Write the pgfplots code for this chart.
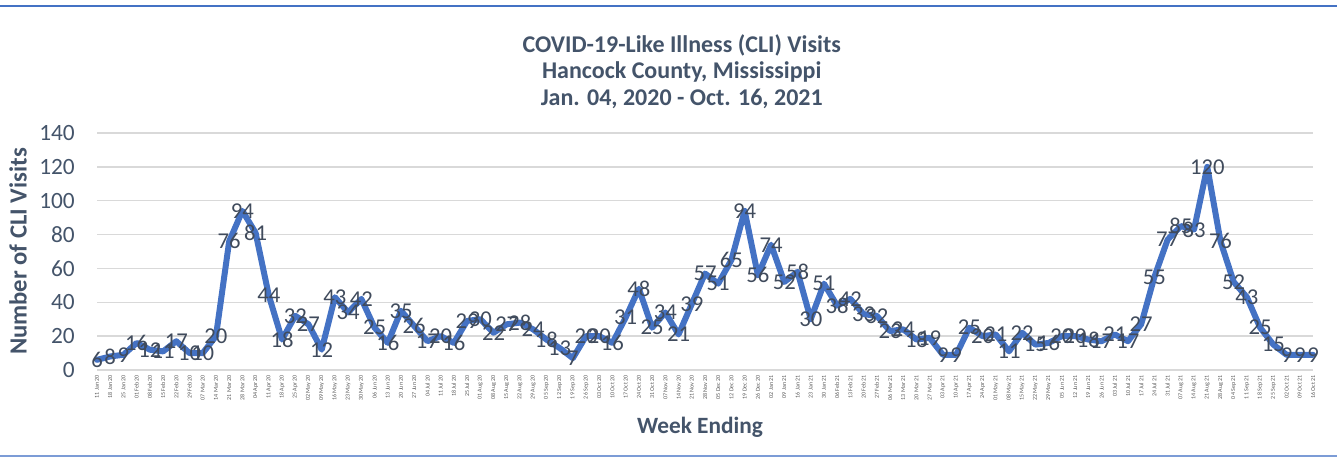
\documentclass[border=0pt]{standalone}
\usepackage{pgfplots}
\usepackage{pgfplotstable}
\pgfplotsset{compat=1.18}
\usepackage{fontspec}
\setmainfont{Carlito}
\definecolor{linec}{HTML}{4472C4}
\definecolor{txt}{HTML}{44546A}
\definecolor{lbl}{HTML}{404B5C}
\definecolor{gridc}{HTML}{D9D9D9}
\definecolor{tickc}{HTML}{595959}
\pgfplotstableread{
idx val
0 6
1 8
2 9
3 16
4 12
5 11
6 17
7 10
8 10
9 20
10 76
11 94
12 81
13 44
14 18
15 32
16 27
17 12
18 43
19 34
20 42
21 25
22 16
23 35
24 26
25 17
26 20
27 16
28 29
29 30
30 22
31 27
32 28
33 24
34 18
35 13
36 7
37 20
38 20
39 16
40 31
41 48
42 25
43 34
44 21
45 39
46 57
47 51
48 65
49 94
50 56
51 74
52 52
53 58
54 30
55 51
56 38
57 42
58 33
59 32
60 23
61 24
62 18
63 19
64 9
65 9
66 25
67 20
68 21
69 11
70 22
71 15
72 16
73 20
74 20
75 18
76 17
77 21
78 17
79 27
80 55
81 77
82 85
83 83
84 120
85 76
86 52
87 43
88 25
89 15
90 9
91 9
92 9
}\cliData
\begin{document}
\begin{tikzpicture}[x=1pt,y=1pt]
\path[use as bounding box] (0,0) rectangle (1002.75,342.75);
\draw[linec, line width=1.5pt] (0,338.25) -- (1002.75,338.25);
\draw[linec!70, line width=1pt] (0,0.75) -- (1002.75,0.75);
\node[align=center, text=txt, font=\bfseries\fontsize{18}{19.9}\selectfont] at (511.3,289) {COVID-19-Like Illness (CLI) Visits\\Hancock County, Mississippi\\Jan. 04, 2020 - Oct. 16, 2021};
\node[rotate=90, text=txt, font=\bfseries\fontsize{18.5}{20}\selectfont] at (13.5,154.1) {Number of CLI Visits};
\node[text=txt, font=\bfseries\fontsize{17.5}{20}\selectfont] at (525,22.5) {Week Ending};
\begin{axis}[
  at={(72.75pt,65.25pt)}, anchor=south west,
  scale only axis, width=912pt, height=177.75pt,
  xmin=0, xmax=92, ymin=0, ymax=140,
  ytick={0,20,...,140},
  xtick={0,...,92},
  xticklabels={11 Jan 20,18 Jan 20,25 Jan 20,01 Feb 20,08 Feb 20,15 Feb 20,22 Feb 20,29 Feb 20,07 Mar 20,14 Mar 20,21 Mar 20,28 Mar 20,04 Apr 20,11 Apr 20,18 Apr 20,25 Apr 20,02 May 20,09 May 20,16 May 20,23 May 20,30 May 20,06 Jun 20,13 Jun 20,20 Jun 20,27 Jun 20,04 Jul 20,11 Jul 20,18 Jul 20,25 Jul 20,01 Aug 20,08 Aug 20,15 Aug 20,22 Aug 20,29 Aug 20,05 Sep 20,12 Sep 20,19 Sep 20,26 Sep 20,03 Oct 20,10 Oct 20,17 Oct 20,24 Oct 20,31 Oct 20,07 Nov 20,14 Nov 20,21 Nov 20,28 Nov 20,05 Dec 20,12 Dec 20,19 Dec 20,26 Dec 20,02 Jan 21,09 Jan 21,16 Jan 21,23 Jan 21,30 Jan 21,06 Feb 21,13 Feb 21,20 Feb 21,27 Feb 21,06 Mar 21,13 Mar 21,20 Mar 21,27 Mar 21,03 Apr 21,10 Apr 21,17 Apr 21,24 Apr 21,01 May 21,08 May 21,15 May 21,22 May 21,29 May 21,05 Jun 21,12 Jun 21,19 Jun 21,26 Jun 21,03 Jul 21,10 Jul 21,17 Jul 21,24 Jul 21,31 Jul 21,07 Aug 21,14 Aug 21,21 Aug 21,28 Aug 21,04 Sep 21,11 Sep 21,18 Sep 21,25 Sep 21,02 Oct 21,09 Oct 21,16 Oct 21},
  xticklabel style={rotate=90, anchor=east, inner xsep=3.75pt, inner ysep=0pt, font=\fontsize{4.5}{5}\selectfont, text=tickc},
  yticklabel style={inner sep=0pt, xshift=-16.5pt, font=\fontsize{17.5}{18}\selectfont, text=txt},
  /pgf/number format/assume math mode=true,
  axis line style={draw=none},
  major tick length=0pt,
  ymajorgrids,
  grid style={gridc, line width=1.1pt},
  clip=false,
]
\addplot[linec, line width=4.5pt, line join=round, line cap=round, mark=none,
  nodes near coords,
  every node near coord/.append style={anchor=center, inner sep=0pt, text=lbl, font=\fontsize{17}{17}\selectfont}]
  table[x=idx, y=val] {\cliData};
\end{axis}
\end{tikzpicture}
\end{document}
